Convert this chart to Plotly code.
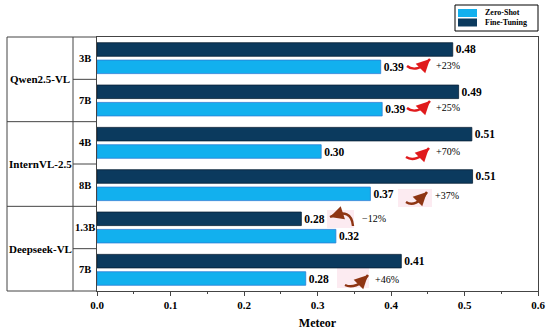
import plotly.graph_objects as go

# ---------------- data ----------------
groups = ["Qwen2.5-VL", "InternVL-2.5", "Deepseek-VL"]
sizes = ["3B", "7B", "4B", "8B", "1.3B", "7B"]
group_of = [0, 0, 1, 1, 2, 2]
fine_tuning = [0.484, 0.492, 0.510, 0.511, 0.278, 0.414]
zero_shot = [0.386, 0.388, 0.305, 0.372, 0.325, 0.284]
fine_labels = ["0.48", "0.49", "0.51", "0.51", "0.28", "0.41"]
zero_labels = ["0.39", "0.39", "0.30", "0.37", "0.32", "0.28"]
changes = ["+23%", "+25%", "+70%", "+37%", "\u221212%", "+46%"]
x_ticks = [0.0, 0.1, 0.2, 0.3, 0.4, 0.5, 0.6]

DARK = "#0b3a5e"
LIGHT = "#12b0ee"
FONT = "Liberation Serif"

W, H = 550, 334
L, R, T, B = 97, 12, 37, 43
PW, PH = W - L - R, H - T - B
N = len(sizes)

def pxx(px):
    return (px - L) / PW

def pxy(py):
    return (H - B - py) / PH

# pixel -> data helpers (for decorative arrows)
def dx(px):
    return (px - L) / PW * 0.6

def dy(py):
    return (py - T) / PH * N - 0.5

ypos = list(range(N))

fig = go.Figure()
fig.add_trace(go.Bar(
    name="Fine-Tuning", y=ypos, x=fine_tuning, orientation="h",
    marker=dict(color=DARK, line=dict(color="#071f35", width=0.8)),
    text=fine_labels, textposition="outside", cliponaxis=False,
    textfont=dict(family=FONT, size=11.5, color="black", weight="bold"),
    showlegend=False, hoverinfo="skip"))
fig.add_trace(go.Bar(
    name="Zero-Shot", y=ypos, x=zero_shot, orientation="h",
    marker=dict(color=LIGHT, line=dict(color="#2c7fd6", width=0.8)),
    text=zero_labels, textposition="outside", cliponaxis=False,
    textfont=dict(family=FONT, size=11.5, color="black", weight="bold"),
    showlegend=False, hoverinfo="skip"))

shapes = []
annotations = []
LC = "#444444"

def hline(x0px, x1px, ypx):
    shapes.append(dict(type="line", xref="paper", yref="paper",
                       x0=pxx(x0px), x1=pxx(x1px), y0=pxy(ypx), y1=pxy(ypx),
                       line=dict(color=LC, width=1)))

def vline(xpx, y0px, y1px):
    shapes.append(dict(type="line", xref="paper", yref="paper",
                       x0=pxx(xpx), x1=pxx(xpx), y0=pxy(y0px), y1=pxy(y1px),
                       line=dict(color=LC, width=1)))

vline(7, T, H - B)
vline(73, T, H - B)
hline(7, L, T)
hline(7, L, H - B)

def hline_data(x0px, yval):
    shapes.append(dict(type="line", xref="paper", yref="y",
                       x0=pxx(x0px), x1=0, y0=yval, y1=yval,
                       line=dict(color=LC, width=1)))

for i in range(N - 1):
    if group_of[i] != group_of[i + 1]:
        hline_data(7, i + 0.5)
    else:
        hline_data(73, i + 0.5)

for i, s in enumerate(sizes):
    annotations.append(dict(xref="paper", yref="y", x=pxx(85), y=i, text=s,
                            showarrow=False, xanchor="center", yanchor="middle",
                            font=dict(family=FONT, size=10.5, color="black", weight="bold")))
for g, name in enumerate(groups):
    idx = [i for i in range(N) if group_of[i] == g]
    yc = (idx[0] + idx[-1]) / 2
    annotations.append(dict(xref="paper", yref="y", x=pxx(40), y=yc, text=name,
                            showarrow=False, xanchor="center", yanchor="middle",
                            font=dict(family=FONT, size=11, color="black", weight="bold")))

# decorative curved arrows, pixel geometry: tail, c1, c2, head, head-tail offset, colour, text pos, glow box
RED = "#e01a1c"
BROWN = "#8e3513"
arrows = [
    ((407, 66), (413, 71), (422, 69), (430, 59), (-6, 6), RED, (434, 65), None),
    ((407, 108), (413, 113), (422, 111), (430, 101), (-6, 6), RED, (434, 107.5), None),
    ((406, 157), (412, 161), (421, 159), (429, 148), (-6, 6), RED, (434, 151), None),
    ((406, 202), (412, 206), (420, 203), (427, 192), (-6, 6), BROWN, (433, 195), (398, 432, 189, 207)),
    ((353, 226), (352, 214), (345, 210), (330, 217), (6, -2), BROWN, (360, 218), (327, 354, 210, 228)),
    ((345, 285), (351, 288), (361, 286), (368, 275), (-6, 6), BROWN, (373, 279), (337, 369, 267, 288)),
]
for k, (t, c1, c2, h, off, col, tp, glow) in enumerate(arrows):
    if glow is not None:
        shapes.append(dict(type="rect", xref="x", yref="y", layer="below",
                           x0=dx(glow[0]), x1=dx(glow[1]), y0=dy(glow[2]), y1=dy(glow[3]),
                           fillcolor="#fcebf1", line=dict(width=0)))
    path = (f"M {dx(t[0])},{dy(t[1])} C {dx(c1[0])},{dy(c1[1])} "
            f"{dx(c2[0])},{dy(c2[1])} {dx(h[0])},{dy(h[1])}")
    shapes.append(dict(type="path", xref="x", yref="y", path=path,
                       line=dict(color=col, width=2.4)))
    annotations.append(dict(xref="x", yref="y", x=dx(h[0]), y=dy(h[1]),
                            ax=off[0], ay=off[1],
                            showarrow=True, arrowhead=2, arrowsize=1.35, arrowwidth=2,
                            arrowcolor=col, text=""))
    annotations.append(dict(xref="x", yref="y", x=dx(tp[0]), y=dy(tp[1]), text=changes[k],
                            showarrow=False, xanchor="left", yanchor="middle",
                            font=dict(family=FONT, size=10, color="black")))

# manual legend
shapes.append(dict(type="rect", xref="paper", yref="paper",
                   x0=pxx(455), x1=pxx(538), y0=pxy(31), y1=pxy(5),
                   line=dict(color="black", width=1), fillcolor="white"))
leg = [("Zero-Shot", LIGHT, 13), ("Fine-Tuning", DARK, 22.5)]
for name, col, yc in leg:
    shapes.append(dict(type="rect", xref="paper", yref="paper",
                       x0=pxx(458), x1=pxx(477), y0=pxy(yc + 4), y1=pxy(yc - 4),
                       line=dict(width=0), fillcolor=col))
    annotations.append(dict(xref="paper", yref="paper", x=pxx(483), y=pxy(yc),
                            text=name, showarrow=False, xanchor="left", yanchor="middle",
                            font=dict(family=FONT, size=8, color="black", weight="bold")))

fig.update_layout(
    width=W, height=H,
    margin=dict(l=L, r=R, t=T, b=B),
    paper_bgcolor="white", plot_bgcolor="white",
    barmode="group", bargap=0.18, bargroupgap=0.22,
    shapes=shapes, annotations=annotations,
    showlegend=False, hovermode=False,
    font=dict(family=FONT, color="black"),
)
fig.update_xaxes(
    range=[0, 0.6], tickvals=x_ticks, ticktext=[f"{v:.1f}" for v in x_ticks],
    showline=True, linecolor=LC, linewidth=1, mirror=True,
    ticks="outside", ticklen=4, tickcolor=LC,
    minor=dict(ticks="outside", ticklen=2, dtick=0.05, tick0=0, tickcolor=LC),
    showgrid=False, zeroline=False, automargin=False,
    tickfont=dict(family=FONT, size=11, color="black", weight="bold"),
    title=dict(text="Meteor", standoff=8,
               font=dict(family=FONT, size=12, color="black", weight="bold")),
)
fig.update_yaxes(
    range=[N - 0.5, -0.5], showticklabels=False, ticks="",
    showline=True, linecolor=LC, linewidth=1, mirror=True,
    showgrid=False, zeroline=False, automargin=False,
)

fig.write_html("out.html", config={"displayModeBar": False, "staticPlot": True},
               post_script="document.body.style.margin='0';")
